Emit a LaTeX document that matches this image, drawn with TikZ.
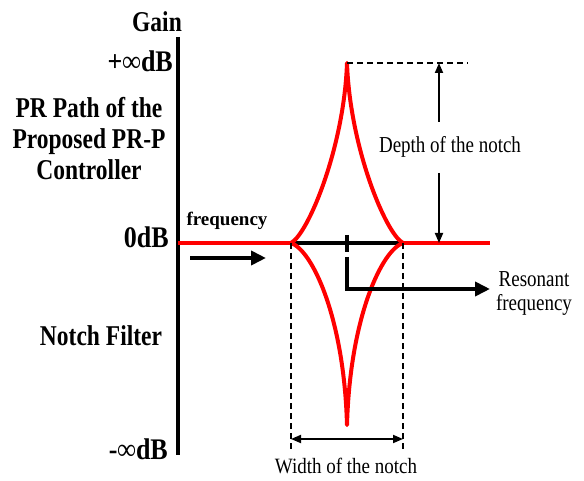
\documentclass[tikz,border=0pt]{standalone}
\usepackage{graphicx}
\usepackage{fontspec}
\setmainfont{Liberation Serif}
\usetikzlibrary{arrows.meta}
\newcommand{\vst}[2]{\scalebox{1}[#1]{#2}}
\begin{document}
\begin{tikzpicture}[x=1pt,y=-1pt,
  biglabel/.style={font=\fontsize{23.5}{25.8}\selectfont\bfseries, inner sep=0pt},
  dblabel/.style={font=\fontsize{26}{28}\selectfont\bfseries, inner sep=0pt},
  smalllabel/.style={font=\fontsize{19}{19.2}\selectfont, inner sep=0pt},
  boldsmall/.style={font=\fontsize{19}{23}\selectfont\bfseries, inner sep=0pt},
  redline/.style={red, line width=4pt},
  blackline/.style={black, line width=4pt},
  guide/.style={black, line width=1.8pt, dash pattern=on 6pt off 4pt},
  thinarrow/.style={black, line width=1.8pt},
  bigtip/.style={-{Triangle[length=15pt,width=14pt]}},
  sharp/.tip={Triangle[length=10pt,width=8pt]}
]
\useasboundingbox (0,0) rectangle (584,481);

% axis
\coordinate (axtop) at (178,37);
\coordinate (axbot) at (178,455);
\draw[blackline] (axtop) -- (axbot);

% labels on the left
\node[biglabel, anchor=base] (gain) at (157,32) {\vst{1.22}{Gain}};
\node[dblabel, anchor=base east] (pinf) at (173,72) {\vst{1.15}{+∞dB}};
\node[biglabel, anchor=base] (pr) at (89,180) {\vst{1.22}{\begin{tabular}[b]{@{}c@{}}PR Path of the\\Proposed PR-P\\Controller\end{tabular}}};
\node[dblabel, anchor=base east] (zero) at (169,248) {\vst{1.15}{0dB}};
\node[biglabel, anchor=base] (nf) at (101,345) {\vst{1.22}{Notch Filter}};
\node[dblabel, anchor=base east] (minf) at (168,459) {\vst{1.15}{-∞dB}};

% key points
\coordinate (z0) at (178,243);
\coordinate (zL) at (291,243);
\coordinate (zR) at (403,243);
\coordinate (zC) at (347,243);
\coordinate (zE) at (490,243);
\coordinate (peak) at (347,63);
\coordinate (dip) at (347,425);

% 0 dB red line
\draw[redline] (z0) -- (zE);
% black segment over it
\draw[blackline] (zL) -- (zR);
% resonance tick
\coordinate (tickT) at (347,235);
\coordinate (tickB) at (347,252);
\draw[blackline] (tickT) -- (tickB);

% red peak and notch
\draw[redline, line join=round] (zL) .. controls (308,234) and (344,148) .. (peak)
  .. controls (350,148) and (386,234) .. (zR);
\draw[redline, line join=round] (zL) .. controls (312,250) and (344,317) .. (dip)
  .. controls (350,317) and (382,250) .. (zR);

% frequency arrow
\node[boldsmall, anchor=base] (freq) at (227,226) {frequency};
\coordinate (fa1) at (190,258);
\coordinate (fa2) at (266,258);
\draw[blackline, bigtip] (fa1) -- (fa2);

% resonant frequency arrow
\coordinate (r1) at (347,257);
\coordinate (r2) at (347,289);
\coordinate (r3) at (490,289);
\draw[blackline, bigtip] (r1) -- (r2) -- (r3);
\node[smalllabel, anchor=base] (res) at (534,310) {\vst{1.2}{\begin{tabular}[b]{@{}c@{}}Resonant\\frequency\end{tabular}}};

% width guides
\coordinate (wL) at (291,452);
\coordinate (wR) at (403,452);
\draw[guide] (zL) -- (wL);
\draw[guide] (zR) -- (wR);
\coordinate (wa1) at (291,439);
\coordinate (wa2) at (403,439);
\draw[thinarrow, sharp-sharp] (wa1) -- (wa2);
\node[smalllabel, anchor=base] (width) at (346,473) {\vst{1.15}{Width of the notch}};

% depth guides
\coordinate (dtop) at (468,63);
\draw[guide] (peak) -- (dtop);
\coordinate (dA) at (439,63);
\coordinate (dB) at (439,122);
\coordinate (dC) at (439,173);
\coordinate (dD) at (439,243);
\draw[thinarrow, -sharp] (dB) -- (dA);
\draw[thinarrow, -sharp] (dC) -- (dD);
\node[smalllabel, anchor=base] (depth) at (450,153) {\vst{1.2}{Depth of the notch}};
\end{tikzpicture}
\end{document}
